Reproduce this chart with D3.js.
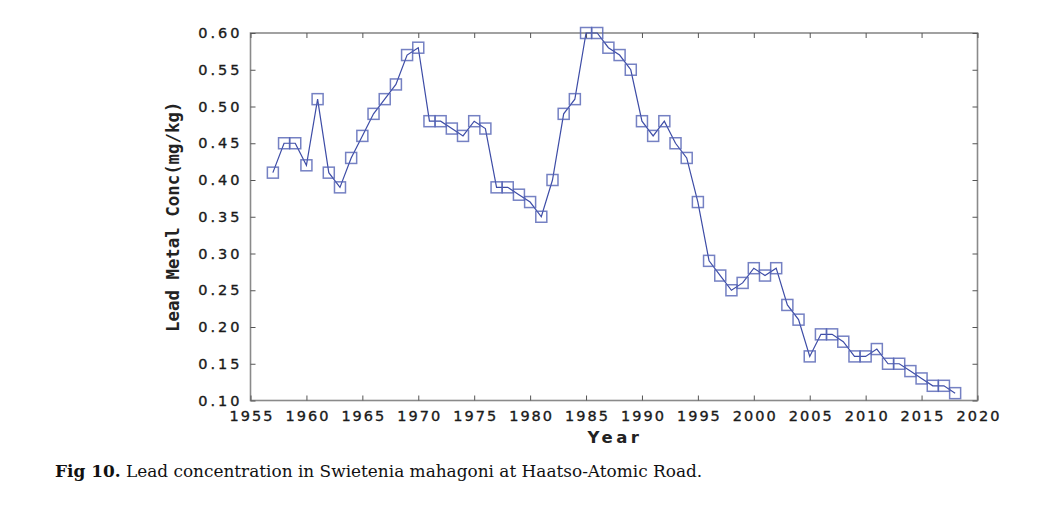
<!DOCTYPE html>
<html>
<head>
<meta charset="utf-8">
<script src="https://cdn.jsdelivr.net/npm/d3@7"></script>
<style>
	body { margin: 0; background: #fff; }
	svg { display: block; }
</style>
</head>
<body>
<div id="chart"></div>
<script>
	// values
	var years = [1957, 1958, 1959, 1960, 1961, 1962, 1963, 1964, 1965, 1966, 1967, 1968, 1969, 1970,
		1971, 1972, 1973, 1974, 1975, 1976, 1977, 1978, 1979, 1980, 1981, 1982, 1983, 1984, 1985,
		1986, 1987, 1988, 1989, 1990, 1991, 1992, 1993, 1994, 1995, 1996, 1997, 1998, 1999, 2000,
		2001, 2002, 2003, 2004, 2005, 2006, 2007, 2008, 2009, 2010, 2011, 2012, 2013, 2014, 2015,
		2016, 2017, 2018];
	var leadConc = [0.41, 0.45, 0.45, 0.42, 0.51, 0.41, 0.39, 0.43, 0.46, 0.49, 0.51, 0.53, 0.57, 0.58,
		0.48, 0.48, 0.47, 0.46, 0.48, 0.47, 0.39, 0.39, 0.38, 0.37, 0.35, 0.40, 0.49, 0.51, 0.60,
		0.60, 0.58, 0.57, 0.55, 0.48, 0.46, 0.48, 0.45, 0.43, 0.37, 0.29, 0.27, 0.25, 0.26, 0.28,
		0.27, 0.28, 0.23, 0.21, 0.16, 0.19, 0.19, 0.18, 0.16, 0.16, 0.17, 0.15, 0.15, 0.14, 0.13,
		0.12, 0.12, 0.11];
	var xTicks = [1955, 1960, 1965, 1970, 1975, 1980, 1985, 1990, 1995, 2000, 2005, 2010, 2015, 2020];
	var yTicks = [0.10, 0.15, 0.20, 0.25, 0.30, 0.35, 0.40, 0.45, 0.50, 0.55, 0.60];

	var data = years.map((y, i) => ({ year: y, value: leadConc[i] }));

	var W = 1043, H = 510;
	var margin = { left: 250.5, top: 33, right: 1043 - 977.5, bottom: 510 - 400.5 };
	var width = W - margin.left - margin.right,
		height = H - margin.top - margin.bottom;

	var svg = d3.select('#chart').append('svg')
		.attr('width', W)
		.attr('height', H);
	var g = svg.append('g')
		.attr('transform', 'translate(' + [margin.left, margin.top] + ')');

	var x = d3.scaleLinear().domain([1955, 2020]).range([0, width]);
	var y = d3.scaleLinear().domain([0.10, 0.60]).range([height, 0]);

	var frameColor = '#8a8a8a';
	var tickFont = '"DejaVu Sans", Verdana, sans-serif';

	// frame with inward ticks on all four sides
	g.append('rect')
		.attr('width', width)
		.attr('height', height)
		.attr('fill', 'none')
		.attr('stroke', frameColor)
		.attr('stroke-width', 1.6);

	function styleAxis(sel, hideText) {
		sel.select('.domain').remove();
		sel.selectAll('.tick line').attr('stroke', '#555').attr('stroke-width', 1);
		if (hideText) sel.selectAll('.tick text').remove();
		else sel.selectAll('.tick text')
			.attr('font-family', tickFont)
			.attr('font-size', 14.5)
			.attr('letter-spacing', 2)
			.attr('fill', '#1a1a1a')
			.attr('stroke', '#1a1a1a')
			.attr('stroke-width', 0.35);
	}

	g.append('g')
		.attr('transform', 'translate(0,' + height + ')')
		.call(d3.axisBottom(x).tickValues(xTicks).tickFormat(d3.format('d')).tickSizeInner(-5).tickPadding(10))
		.call(s => styleAxis(s, false))
		.call(s => s.selectAll('.tick text').attr('dx', 1));
	g.append('g')
		.call(d3.axisTop(x).tickValues(xTicks).tickSizeInner(-5))
		.call(s => styleAxis(s, true));
	g.append('g')
		.call(d3.axisLeft(y).tickValues(yTicks).tickFormat(d3.format('.2f')).tickSizeInner(-5).tickPadding(8))
		.call(s => styleAxis(s, false))
		.call(s => s.selectAll('.tick text').attr('letter-spacing', 3));
	g.append('g')
		.attr('transform', 'translate(' + width + ',0)')
		.call(d3.axisRight(y).tickValues(yTicks).tickSizeInner(-5))
		.call(s => styleAxis(s, true));

	// axis titles
	g.append('text')
		.attr('x', width / 2 + 1)
		.attr('y', height + 42)
		.attr('text-anchor', 'middle')
		.attr('font-family', tickFont)
		.attr('font-weight', 'bold')
		.attr('font-size', 16.5)
		.attr('letter-spacing', 3.5)
		.attr('fill', '#222')
		.text('Year');
	g.append('text')
		.attr('transform', 'translate(-72,' + (height / 2) + ') rotate(-90)')
		.attr('text-anchor', 'middle')
		.attr('font-family', '"DejaVu Sans Mono", monospace')
		.attr('font-weight', 'bold')
		.attr('font-size', 17.4)
		.attr('fill', '#222')
		.text('Lead Metal Conc(mg/kg)');

	// series
	var line = d3.line()
		.x(d => x(d.year))
		.y(d => y(d.value));

	g.append('path')
		.datum(data)
		.attr('d', line)
		.attr('fill', 'none')
		.attr('stroke', '#3d4ca6')
		.attr('stroke-width', 1.2);

	var s = 11;
	g.selectAll('rect.marker')
		.data(data)
		.enter().append('rect')
		.attr('class', 'marker')
		.attr('x', d => x(d.year) - s / 2)
		.attr('y', d => y(d.value) - s / 2)
		.attr('width', s)
		.attr('height', s)
		.attr('fill', 'none')
		.attr('stroke', '#5361b4')
		.attr('stroke-opacity', 0.8)
		.attr('stroke-width', 1.5);

	// caption, sized to the width it takes in the figure
	var cap = svg.append('text')
		.attr('x', 55)
		.attr('y', 477)
		.attr('font-family', '"DejaVu Serif", "Liberation Serif", serif')
		.attr('font-size', 16)
		.attr('fill', '#111');
	cap.append('tspan').attr('font-weight', 'bold').text('Fig 10.');
	cap.append('tspan').text(' Lead concentration in Swietenia mahagoni at Haatso-Atomic Road.');
	var capW = cap.node().getComputedTextLength();
	cap.attr('font-size', 16 * 648 / capW);
</script>
</body>
</html>
